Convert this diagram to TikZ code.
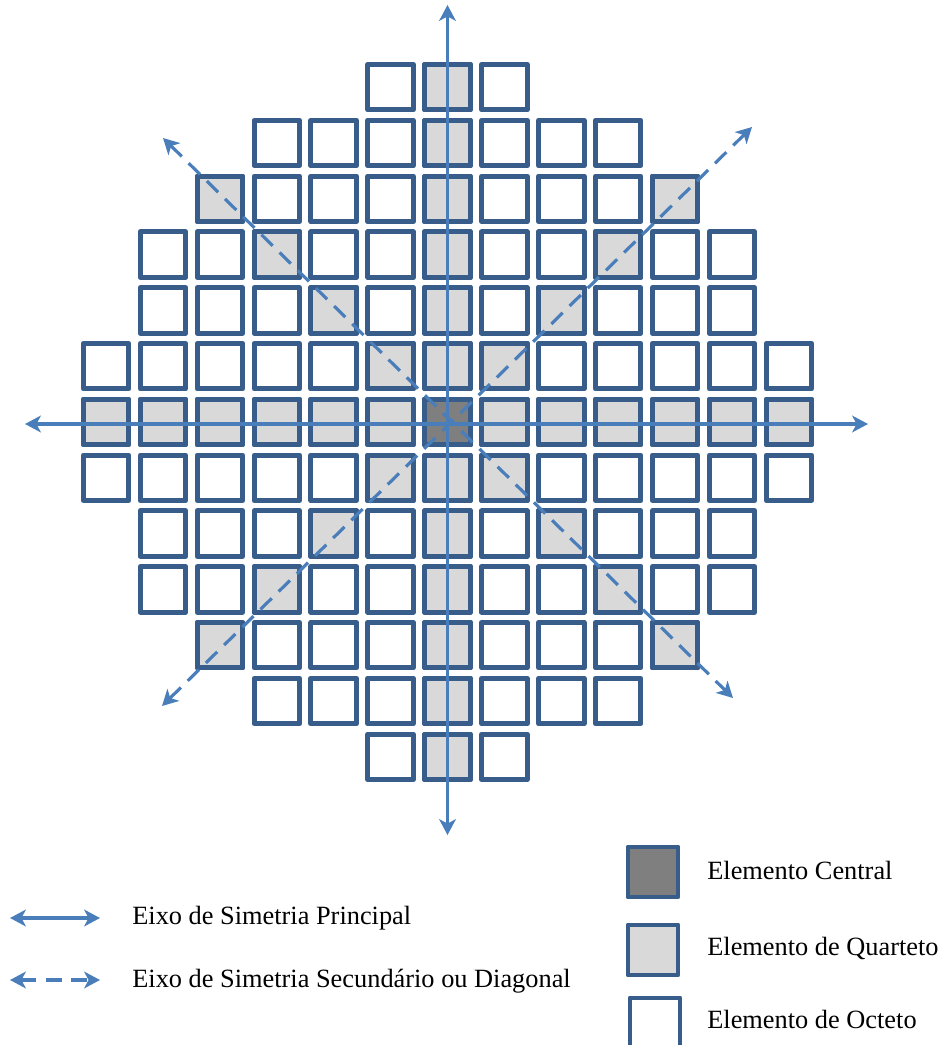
\documentclass[tikz,border=0pt]{standalone}
\usepackage{fontspec}
\setmainfont{Liberation Serif}
\usetikzlibrary{arrows.meta}

\definecolor{corBorda}{HTML}{385D8A}
\definecolor{corEixo}{HTML}{4A7EBB}
\definecolor{corQuarteto}{HTML}{D9D9D9}
\definecolor{corCentral}{HTML}{7F7F7F}

% Celula (estilo, coluna, linha)
\newcommand{\celula}[3]{%
\draw[#1]
({447.5+56.9*(#2)-22.75},{422+55.8*(#3)-22.75})
rectangle ++(45.5,45.5);}

\tikzset{
octeto/.style={draw=corBorda, line width=2.8pt, line join=round, fill=white},
quarteto/.style={octeto, fill=corQuarteto},
central/.style={octeto, fill=corCentral},
eixo/.style={draw=corEixo, line width=1.8pt,
  {Stealth[length=9pt,width=9.5pt,inset=2.5pt]}-{Stealth[length=9pt,width=9.5pt,inset=2.5pt]}},
diagonal/.style={eixo, dash pattern=on 9pt off 5.5pt},
legenda/.style={font=\fontsize{15}{18}\selectfont, anchor=base west, inner sep=0pt}
}

\begin{document}
\begin{tikzpicture}[x=0.02cm, y=-0.02cm]

\useasboundingbox (0,0) rectangle (942,1045);

% Elementos de octeto
\foreach \r/\n in {-6/1,-5/3,-4/4,-3/5,-2/5,-1/6,0/6,1/6,2/5,3/5,4/4,5/3,6/1}
  \foreach \c in {-\n,...,\n}
    \celula{octeto}{\c}{\r};

% Elementos de quarteto
\foreach \k in {-6,...,6} {
  \celula{quarteto}{\k}{0}
  \celula{quarteto}{0}{\k}
}
\foreach \k in {-4,...,4} {
  \celula{quarteto}{\k}{\k}
  \celula{quarteto}{\k}{-\k}
}

% Elemento central
\celula{central}{0}{0}

% Eixos principais
\coordinate (topo) at (447.5,5);
\coordinate (fundo) at (447.5,835);
\coordinate (esq) at (25,424);
\coordinate (dir) at (868,424);

\draw[eixo] (topo) -- (fundo);
\draw[eixo] (esq) -- (dir);

% Eixos diagonais
\coordinate (no) at (163,138);
\coordinate (se) at (733,698);
\coordinate (ne) at (752,127);
\coordinate (so) at (162,706);

\draw[diagonal] (no) -- (se);
\draw[diagonal] (ne) -- (so);

% Legenda dos eixos
\coordinate (lpA) at (10,918);
\coordinate (lpB) at (100,918);
\coordinate (lsA) at (10,980);
\coordinate (lsB) at (100,980);

\draw[eixo] (lpA) -- (lpB);
\draw[diagonal] (lsA) -- (lsB);

\node[legenda] (txtPrincipal)
at (132,924)
{Eixo de Simetria Principal};

\node[legenda] (txtDiagonal)
at (132,987)
{Eixo de Simetria Secundário ou Diagonal};

% Legenda dos elementos
\draw[central] (628,847) rectangle (678,897);
\draw[quarteto] (628,925) rectangle (678,975);
\draw[octeto] (630,998) rectangle (680,1048);

\node[legenda] (txtCentral)
at (707,879)
{Elemento Central};

\node[legenda] (txtQuarteto)
at (707,955)
{Elemento de Quarteto};

\node[legenda] (txtOcteto)
at (707,1028)
{Elemento de Octeto};

\end{tikzpicture}
\end{document}
